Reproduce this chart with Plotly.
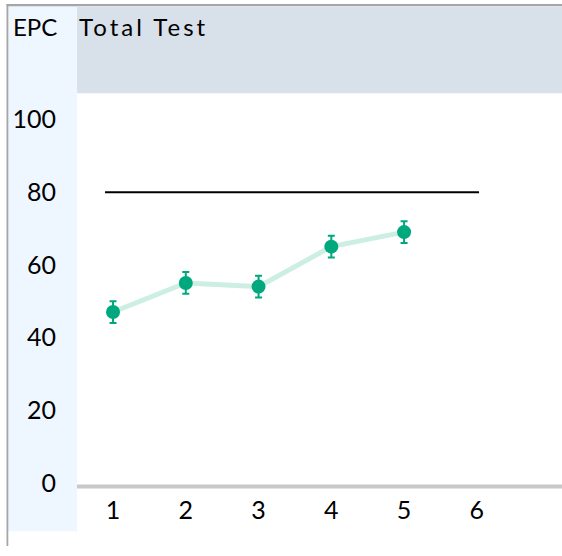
import plotly.graph_objects as go

# ---- data ----
sessions = [1, 2, 3, 4, 5]
scores = [47, 55, 54, 65, 69]
errors = [3, 3, 3, 3, 3]
x_ticks = [1, 2, 3, 4, 5, 6]
y_ticks = [0, 20, 40, 60, 80, 100]
target_value = 80
target_span = [0.89, 6.03]
title_text = "Total Test"
axis_label = "EPC"

W, H = 562, 556
FONT = "Lato"

def px(x):
    return x / W

def py(y):
    return 1 - y / H

fig = go.Figure()

fig.add_trace(go.Scatter(
    x=target_span, y=[target_value, target_value], mode="lines",
    line=dict(color="black", width=2), hoverinfo="skip", showlegend=False,
))

fig.add_trace(go.Scatter(
    x=sessions, y=scores, mode="lines",
    line=dict(color="#CDEFE3", width=5), hoverinfo="skip", showlegend=False,
))
fig.add_trace(go.Scatter(
    x=sessions, y=scores, mode="markers",
    marker=dict(color="#00A87D", size=14),
    error_y=dict(type="data", array=errors, color="#00A87D", thickness=2, width=3.5),
    showlegend=False,
))

shapes = [
    dict(type="rect", xref="paper", yref="paper", x0=px(8), x1=px(77), y0=py(541), y1=py(5),
         fillcolor="#EEF6FF", line=dict(width=0), layer="below"),
    dict(type="rect", xref="paper", yref="paper", x0=px(77), x1=px(562), y0=py(95), y1=py(7),
         fillcolor="#D8E0EA", line=dict(width=0), layer="below"),
    dict(type="rect", xref="paper", yref="paper", x0=px(6.5), x1=px(562), y0=py(6.3), y1=py(4),
         fillcolor="#A6A6A6", line=dict(width=0), layer="below"),
    dict(type="rect", xref="paper", yref="paper", x0=px(6.5), x1=px(8.3), y0=0, y1=py(4),
         fillcolor="#A6A6A6", line=dict(width=0), layer="below"),
    dict(type="rect", xref="paper", yref="paper", x0=px(77), x1=px(562), y0=py(497.5), y1=py(493.5),
         fillcolor="#C8C8C8", line=dict(width=0), layer="below"),
]

annotations = [
    dict(text=axis_label, xref="paper", yref="paper", x=px(11), y=py(27), xanchor="left",
         yanchor="middle", showarrow=False, font=dict(family=FONT, size=24, color="black")),
    dict(text='<span style="letter-spacing:3px">' + title_text + '</span>',
         xref="paper", yref="paper", x=px(77), y=py(27), xanchor="left",
         yanchor="middle", showarrow=False, font=dict(family=FONT, size=24, color="black")),
]

fig.update_layout(
    width=W, height=H, autosize=False,
    margin=dict(l=0, r=0, t=0, b=0),
    paper_bgcolor="white", plot_bgcolor="rgba(0,0,0,0)",
    shapes=shapes, annotations=annotations,
    font=dict(family=FONT, size=25, color="black"),
    xaxis=dict(domain=[px(77), 1], range=[0.505, 7.17], tickvals=x_ticks,
               ticktext=[str(v) for v in x_ticks], showgrid=False, zeroline=False,
               showline=False, ticks="", ticklabelstandoff=7,
               tickfont=dict(family=FONT, size=25, color="black")),
    yaxis=dict(domain=[py(495), py(95)], range=[-0.9, 107.2], tickvals=y_ticks,
               showgrid=False, zeroline=False, showline=False, ticks="",
               ticklabelstandoff=20,
               tickfont=dict(family=FONT, size=25, color="black")),
)

css_fix = (
    "var s='margin:0;padding:0;overflow:hidden;width:562px;height:556px;';"
    "document.documentElement.style.cssText=s;"
    "document.body.style.cssText=s;"
    "var g=document.getElementById('{plot_id}');"
    "g.style.position='fixed';g.style.left='0px';g.style.top='0px';"
)

fig.write_html(
    "out.html",
    config=dict(displayModeBar=False, responsive=False),
    post_script=css_fix,
)
